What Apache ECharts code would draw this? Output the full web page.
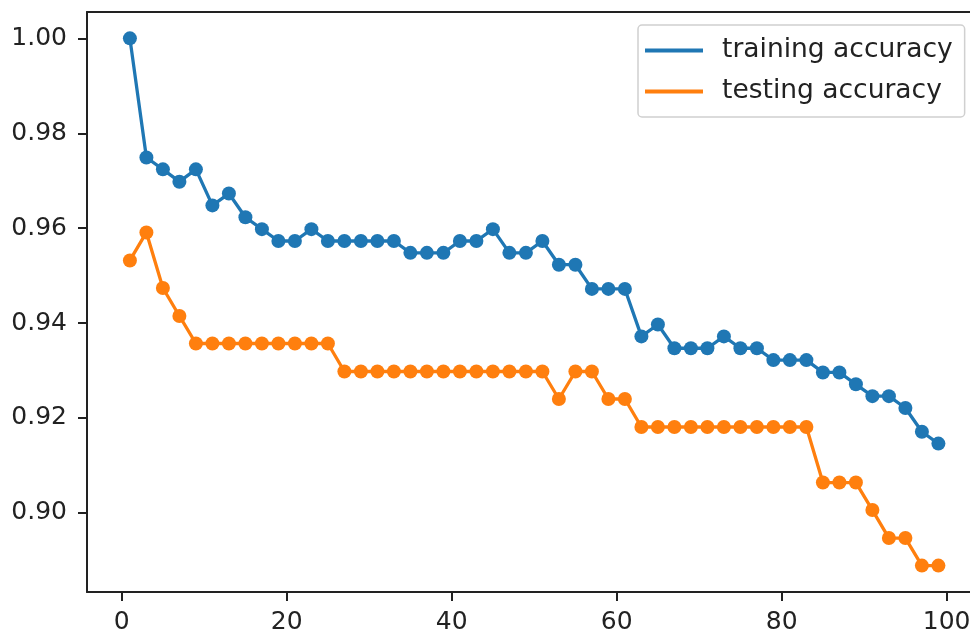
<!DOCTYPE html>
<html>
<head>
<meta charset="utf-8">
<script src="https://cdn.jsdelivr.net/npm/echarts@6/dist/echarts.min.js"></script>
<style>html,body{margin:0;padding:0;background:#fff;overflow:hidden;}#c{width:970px;height:637px;}</style>
</head>
<body>
<div id="c"></div>
<script>
const kValues = [1,3,5,7,9,11,13,15,17,19,21,23,25,27,29,31,33,35,37,39,41,43,45,47,49,51,53,55,57,59,61,63,65,67,69,71,73,75,77,79,81,83,85,87,89,91,93,95,97,99];
const trainingAccuracy = [1.0,0.9749,0.9724,0.9698,0.9724,0.9648,0.9673,0.9623,0.9598,0.9573,
  0.9573,0.9598,0.9573,0.9573,0.9573,0.9573,0.9573,0.9548,0.9548,0.9548,
  0.9573,0.9573,0.9598,0.9548,0.9548,0.9573,0.9523,0.9523,0.9472,0.9472,
  0.9472,0.9372,0.9397,0.9347,0.9347,0.9347,0.9372,0.9347,0.9347,0.9322,
  0.9322,0.9322,0.9296,0.9296,0.9271,0.9246,0.9246,0.9221,0.9171,0.9146];
const testingAccuracy = [0.9532,0.9591,0.9474,0.9415,0.9357,0.9357,0.9357,0.9357,0.9357,0.9357,
  0.9357,0.9357,0.9357,0.9298,0.9298,0.9298,0.9298,0.9298,0.9298,0.9298,
  0.9298,0.9298,0.9298,0.9298,0.9298,0.9298,0.9240,0.9298,0.9298,0.9240,
  0.9240,0.9181,0.9181,0.9181,0.9181,0.9181,0.9181,0.9181,0.9181,0.9181,
  0.9181,0.9181,0.9064,0.9064,0.9064,0.9006,0.8947,0.8947,0.8889,0.8889];
const xTicks = [0,20,40,60,80,100];
const yTicks = [0.90,0.92,0.94,0.96,0.98,1.00];
const seriesNames = ['training accuracy','testing accuracy'];

const font = 'DejaVu Sans';
const chart = echarts.init(document.getElementById('c'), null, {renderer:'canvas', width:970, height:637});
const pairs = arr => kValues.map((k,i)=>[k, arr[i]]);
const spine = {color:'#222', width:2};
chart.setOption({
  animation:false,
  backgroundColor:'#fff',
  grid:{left:87, top:12, width:891, height:580, outerBoundsMode:'none', containLabel:false},
  legend:{
    left:638, top:25, orient:'vertical',
    data:seriesNames,
    icon:'rect', itemWidth:58, itemHeight:4, itemGap:14,
    padding:[12,12,12,7],
    backgroundColor:'rgba(255,255,255,0.8)', borderColor:'#d0d0d0', borderWidth:1.5, borderRadius:4,
    textStyle:{fontFamily:font, fontSize:26.5, color:'#222', padding:[0,0,0,14], lineHeight:26}
  },
  xAxis:[{
    type:'value', min:-4.2, max:103.8,
    axisLine:{show:true, onZero:false, lineStyle:spine},
    axisTick:{show:true, length:9, customValues:xTicks, lineStyle:spine},
    axisLabel:{customValues:xTicks, margin:18, fontFamily:font, fontSize:25, color:'#222'},
    splitLine:{show:false}
  },{
    type:'value', position:'top', min:-4.2, max:103.8,
    axisLine:{show:true, onZero:false, lineStyle:spine},
    axisTick:{show:false}, axisLabel:{show:false}, splitLine:{show:false}
  }],
  yAxis:{
    type:'value', min:0.883333, max:1.005556,
    axisLine:{show:true, onZero:false, lineStyle:spine},
    axisTick:{show:true, length:9, customValues:yTicks, lineStyle:spine},
    axisLabel:{customValues:yTicks, margin:20, fontFamily:font, fontSize:25, color:'#222', formatter:v=>Number(v).toFixed(2)},
    splitLine:{show:false}
  },
  series:[
    {name:seriesNames[0], type:'line', data:pairs(trainingAccuracy), symbol:'circle', symbolSize:14,
     lineStyle:{color:'#1f77b4', width:3.3}, itemStyle:{color:'#1f77b4', borderWidth:0}},
    {name:seriesNames[1], type:'line', data:pairs(testingAccuracy), symbol:'circle', symbolSize:14,
     lineStyle:{color:'#ff7f0e', width:3.3}, itemStyle:{color:'#ff7f0e', borderWidth:0}}
  ]
});
</script>
</body>
</html>
